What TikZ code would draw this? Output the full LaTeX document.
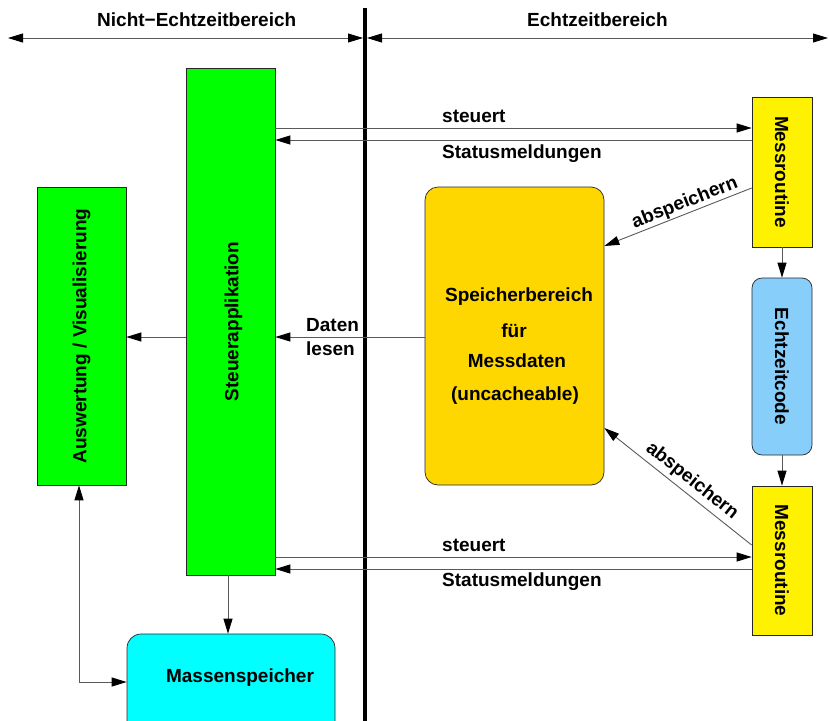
\documentclass[tikz,border=0pt]{standalone}
\usepackage{fontspec}
\setmainfont{Liberation Sans}
\usetikzlibrary{arrows.meta}
\definecolor{sky}{HTML}{87CEFA}
\definecolor{gold}{HTML}{FFD700}
\definecolor{aqua}{RGB}{0,255,255}
\definecolor{lime}{RGB}{0,255,0}
\begin{document}
\begin{tikzpicture}[x=1pt,y=-1pt,
  font=\fontsize{19}{23}\selectfont\bfseries,
  box/.style={draw=black!85, line width=0.7pt, inner sep=0pt},
  rbox/.style={box, rounded corners=14pt},
  conn/.style={draw=black!65, line width=0.9pt, -{Triangle[length=15pt,width=9pt,color=black]}},
  both/.style={draw=black!65, line width=0.9pt, {Triangle[length=15pt,width=9pt,color=black]}-{Triangle[length=15pt,width=9pt,color=black]}},
  txt/.style={inner sep=0pt}]
\useasboundingbox (0,0) rectangle (829,720);

% range arrows and the real-time boundary
\coordinate (nl) at (8,38);
\coordinate (nr) at (363,38);
\coordinate (el) at (367,38);
\coordinate (er) at (828,38);
\draw[both] (nl) -- (nr);
\draw[both] (el) -- (er);
\node[txt, anchor=base west] (tnicht) at (97,27) {Nicht−Echtzeitbereich};
\node[txt, anchor=base west] (techt) at (527,27) {Echtzeitbereich};
\coordinate (gtop) at (365,8);
\coordinate (gbot) at (365,722);
\draw[line width=4pt] (gtop) -- (gbot);

% blocks
\node[box, fill=lime, minimum width=89pt, minimum height=507pt] (steuer) at (230.5,321.5) {};
\node[txt, rotate=90] (steuerlbl) at ([xshift=3pt]steuer.center) {Steuerapplikation};
\node[box, fill=lime, minimum width=89pt, minimum height=298pt] (ausw) at (81.5,336) {};
\node[txt, rotate=90] (auswlbl) at (ausw) {Auswertung / Visualisierung};
\node[rbox, fill=aqua, minimum width=208pt, minimum height=110pt] (mass) at (231,689) {};
\node[txt, anchor=base] (masslbl) at (240,682) {Massenspeicher};

\node[rbox, rounded corners=13pt, fill=gold, minimum width=179pt, minimum height=298pt] (spei) at (514.5,336) {};
\node[txt, anchor=base] (sp1) at (519,301) {Speicherbereich};
\node[txt, anchor=base] (sp2) at (514,337) {für};
\node[txt, anchor=base] (sp3) at (517,367) {Messdaten};
\node[txt, anchor=base] (sp4) at (515,400) {(uncacheable)};

\node[box, fill=yellow, minimum width=60pt, minimum height=150pt] (mr1) at (782,172) {};
\node[txt, rotate=-90] (mr1lbl) at (mr1) {Messroutine};
\node[rbox, rounded corners=10pt, fill=sky, minimum width=60pt, minimum height=177pt] (ezc) at (782,366.5) {};
\node[txt, rotate=-90] (ezclbl) at (ezc) {Echtzeitcode};
\node[box, fill=yellow, minimum width=60pt, minimum height=149pt] (mr2) at (782,560.5) {};
\node[txt, rotate=-90] (mr2lbl) at (mr2) {Messroutine};

% connectors
\draw[conn] (mr1.south) -- (ezc.north);
\draw[conn] (ezc.south) -- (mr2.north);

\draw[conn] (steuer.east |- 0,128) -- (mr1.west |- 0,128);
\draw[conn] (mr1.west |- 0,140) -- (steuer.east |- 0,140);
\node[txt, anchor=base west] (st1) at (442,122) {steuert};
\node[txt, anchor=base west] (sm1) at (442,158) {Statusmeldungen};

\draw[conn] (steuer.east |- 0,557) -- (mr2.west |- 0,557);
\draw[conn] (mr2.west |- 0,569) -- (steuer.east |- 0,569);
\node[txt, anchor=base west] (st2) at (442,551) {steuert};
\node[txt, anchor=base west] (sm2) at (442,586) {Statusmeldungen};

\draw[conn] (mr1.west |- 0,188) -- (spei.east |- 0,246);
\node[txt, rotate=21.5] (ab1) at (685,203) {abspeichern};
\draw[conn] (mr2.west |- 0,545) -- (spei.east |- 0,428);
\node[txt, rotate=-38.5] (ab2) at (692,481) {abspeichern};

\draw[conn] (spei.west |- 0,337) -- (steuer.east |- 0,337);
\node[txt, anchor=base west] (dl1) at (306,331) {Daten};
\node[txt, anchor=base west] (dl2) at (306,355) {lesen};

\draw[conn] (steuer.west |- 0,337) -- (ausw.east |- 0,337);
\draw[conn] (steuer.south -| 228,0) -- (mass.north -| 228,0);
\coordinate (bend) at (79,682);
\draw[both] (ausw.south -| bend) -- (bend) -- (mass.west |- bend);
\end{tikzpicture}
\end{document}
